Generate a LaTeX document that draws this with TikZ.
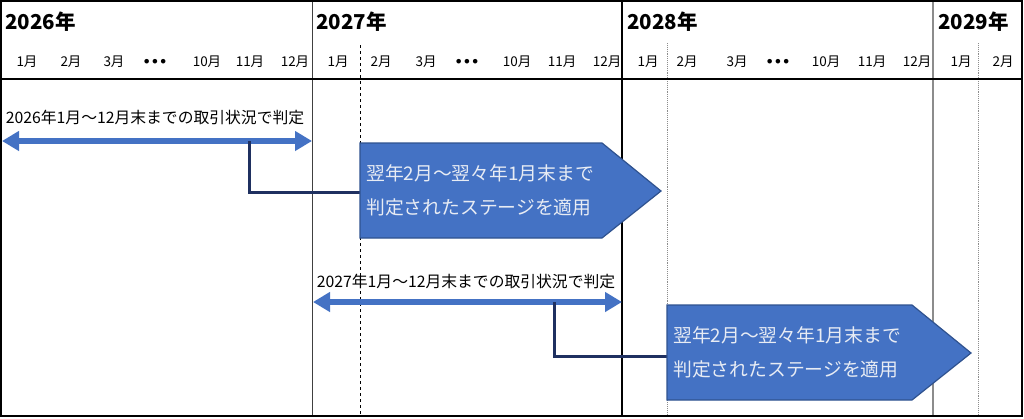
\documentclass[tikz,border=0pt]{standalone}
\usepackage{fontspec}
\newfontfamily\jp{Noto Sans CJK JP}
\newfontfamily\dv{DejaVu Sans}
\usetikzlibrary{arrows.meta}
\definecolor{accent}{HTML}{4472C4}
\definecolor{accentdark}{HTML}{2F528F}
\definecolor{navy}{HTML}{1F3060}
\definecolor{paletext}{HTML}{E8ECF4}
\definecolor{gridgray}{HTML}{8C8C8C}
\tikzset{
  year/.style={anchor=west,inner sep=0pt,font=\jp\bfseries\fontsize{20.5}{23}\selectfont},
  month/.style={inner sep=0pt,font=\jp\fontsize{13.5}{15}\selectfont},
  dots/.style={inner sep=0pt,font=\dv\bfseries\fontsize{13}{15}\selectfont},
  rangelabel/.style={inner sep=0pt,font=\jp\fontsize{15.8}{18}\selectfont},
  stagetext/.style={anchor=west,inner sep=0pt,text=paletext,font=\jp\fontsize{18.8}{21}\selectfont},
  spanarrow/.style={accent,line width=6pt,{Triangle[length=17pt,width=19pt]}-{Triangle[length=17pt,width=19pt]}},
  link/.style={navy,line width=3pt},
  stage/.style={fill=accent,draw=accentdark,line width=1.2pt,line join=miter},
  yearline/.style={line width=1.4pt},
  monthdash/.style={dashed,line width=0.9pt},
  monthdot/.style={gridgray,densely dotted,line width=0.9pt},
}
\begin{document}
\begin{tikzpicture}[x=1pt,y=-1pt]
\useasboundingbox (0,0) rectangle (1024,418);
\fill[white] (0,0) rectangle (1024,418);

% grid lines
\draw[monthdash] (360,45) -- (360,416);
\draw[monthdot] (667,43) -- (667,416);
\draw[monthdot] (978,43) -- (978,416);
\draw[line width=1pt,black!75] (312,1) -- (312,416);
\draw[yearline,black] (622,1) -- (622,416);
\draw[yearline,gridgray] (933,1) -- (933,416);
\draw[line width=1.8pt] (1,79) -- (1022,79);
\draw[line width=1.8pt] (1,1) rectangle (1022,416);

% year headers
\node[year] (y2026) at (5,22) {2026年};
\node[year] (y2027) at (316,22) {2027年};
\node[year] (y2028) at (627,22) {2028年};
\node[year] (y2029) at (938,22) {2029年};

% months 2026
\node[month] (a1) at (27,62) {1月};
\node[month] (a2) at (71,62) {2月};
\node[month] (a3) at (114,62) {3月};
\node[dots] (ad) at (155,63) {•••};
\node[month] (a10) at (207,62) {10月};
\node[month] (a11) at (250,62) {11月};
\node[month] (a12) at (295,62) {12月};
% months 2027
\node[month] (b1) at (338,62) {1月};
\node[month] (b2) at (381,62) {2月};
\node[month] (b3) at (426,62) {3月};
\node[dots] (bd) at (467,63) {•••};
\node[month] (b10) at (517,62) {10月};
\node[month] (b11) at (562,62) {11月};
\node[month] (b12) at (607,62) {12月};
% months 2028
\node[month] (c1) at (648,62) {1月};
\node[month] (c2) at (687,62) {2月};
\node[month] (c3) at (737,62) {3月};
\node[dots] (cd) at (778,63) {•••};
\node[month] (c10) at (826,62) {10月};
\node[month] (c11) at (872,62) {11月};
\node[month] (c12) at (917,62) {12月};
% months 2029
\node[month] (d1) at (961,62) {1月};
\node[month] (d2) at (1003,62) {2月};

% first period
\coordinate (r1w) at (2,141);
\coordinate (r1e) at (312,141);
\coordinate (r1k) at (249,141);
\coordinate (r1b) at (249,192);
\node[rangelabel] (l1) at (155,117) {2026年1月～12月末までの取引状況で判定};
\draw[spanarrow] (r1w) -- (r1e);
\coordinate (s1w) at (360,192);
\draw[link] (r1k) -- (r1b) -- (s1w);
\path[stage] (360,143) -- (602,143) -- (661,191) -- (602,238) -- (360,238) -- cycle;
\node[stagetext] (s1a) at (366,173) {翌年2月～翌々年1月末まで};
\node[stagetext] (s1b) at (366,207) {判定されたステージを適用};

% second period
\coordinate (r2w) at (313,302);
\coordinate (r2e) at (622,302);
\coordinate (r2k) at (554,302);
\coordinate (r2b) at (554,356);
\node[rangelabel] (l2) at (466,281) {2027年1月～12月末までの取引状況で判定};
\draw[spanarrow] (r2w) -- (r2e);
\coordinate (s2w) at (667,356);
\draw[link] (r2k) -- (r2b) -- (s2w);
\path[stage] (667,305) -- (912,305) -- (971,353) -- (912,400) -- (667,400) -- cycle;
\node[stagetext] (s2a) at (673,335) {翌年2月～翌々年1月末まで};
\node[stagetext] (s2b) at (673,369) {判定されたステージを適用};
\end{tikzpicture}
\end{document}
